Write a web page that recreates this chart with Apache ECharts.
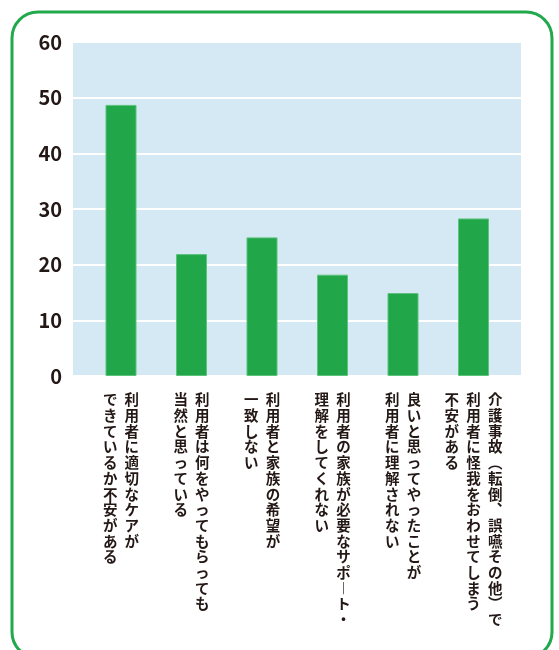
<!DOCTYPE html>
<html>
<head>
<meta charset="utf-8">
<script src="https://cdn.jsdelivr.net/npm/echarts@6/dist/echarts.min.js"></script>
<style>
html,body{margin:0;padding:0;background:#fff;}
#chart{width:559px;height:650px;}
</style>
</head>
<body>
<div id="chart"></div>
<script>
// ---- data ----
var categoryLines = [
  ["利用者に適切なケアが", "できているか不安がある"],
  ["利用者は何をやってもらっても", "当然と思っている"],
  ["利用者と家族の希望が", "一致しない"],
  ["利用者の家族が必要なサポート・", "理解をしてくれない"],
  ["良いと思ってやったことが", "利用者に理解されない"],
  ["介護事故（転倒、誤嚥その他）で", "利用者に怪我をおわせてしまう", "不安がある"]
];
var values = [48.7, 21.9, 24.9, 18.2, 14.9, 28.3];
var yTicks = [0, 10, 20, 30, 40, 50, 60];

// ---- vertical (tategaki) label builder ----
var verticalMap = {"ー": "\uFE31", "（": "\uFE35", "）": "\uFE36", "、": "\uFE11"};
function toVertical(lines) {
  var cols = lines.map(function (l) {
    return Array.from(l).map(function (c) { return verticalMap[c] || c; });
  });
  var n = Math.max.apply(null, cols.map(function (c) { return c.length; }));
  var rows = [];
  for (var i = 0; i < n; i++) {
    var row = [];
    for (var j = cols.length - 1; j >= 0; j--) {
      row.push(cols[j][i] || "\u3000");
    }
    rows.push(row.join("\u2002"));
  }
  return rows.join("\n");
}
var categories = categoryLines.map(toVertical);

var chart = echarts.init(document.getElementById('chart'), null, {renderer: 'canvas'});
var font = '"Noto Sans CJK JP", "Noto Sans", sans-serif';
var option = {
  backgroundColor: '#ffffff',
  animation: false,
  graphic: [{
    type: 'rect',
    shape: {x: 12, y: 12, width: 540, height: 646, r: 26},
    style: {fill: 'none', stroke: '#22a94b', lineWidth: 3},
    z: -10
  }],
  grid: [
    {left: 73, top: 42, width: 448, height: 334, show: true, backgroundColor: '#d5e9f5', borderWidth: 0},
    {left: 85.75, top: 42, width: 423, height: 334}
  ],
  xAxis: [
    {gridIndex: 0, type: 'value', show: false},
    {
      gridIndex: 1, type: 'category', data: categories,
      axisLine: {show: false}, axisTick: {show: false},
      axisLabel: {
        interval: 0, margin: 16, color: '#231815', fontFamily: font,
        fontWeight: 'bold', fontSize: 14.5, lineHeight: 15.7, align: 'center'
      }
    }
  ],
  yAxis: [
    {
      gridIndex: 0, type: 'value', min: yTicks[0], max: yTicks[yTicks.length - 1], interval: 10,
      axisLine: {show: false}, axisTick: {show: false},
      splitLine: {show: true, lineStyle: {color: '#ffffff', width: 2}},
      axisLabel: {color: '#231815', fontFamily: font, fontWeight: 'bold', fontSize: 20, margin: 11}
    },
    {gridIndex: 1, type: 'value', min: 0, max: 60, show: false, splitLine: {show: false}}
  ],
  series: [{
    type: 'bar', xAxisIndex: 1, yAxisIndex: 1, data: values, barWidth: 31,
    itemStyle: {color: '#21a64a', borderColor: '#5cc27c', borderWidth: 1}
  }]
};
chart.setOption(option);
</script>
</body>
</html>
